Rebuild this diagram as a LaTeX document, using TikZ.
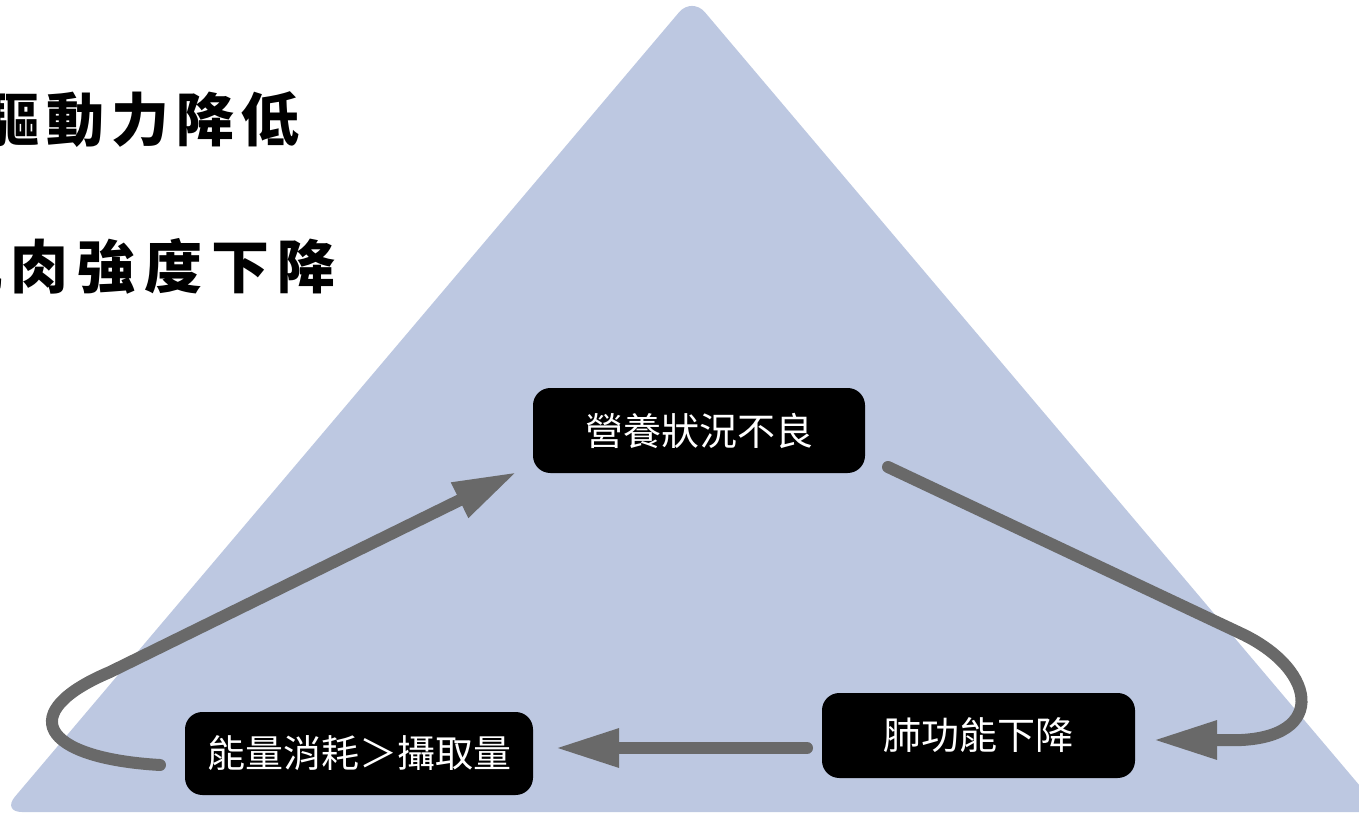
\documentclass[tikz,border=0pt]{standalone}
\usepackage{fontspec}
\usetikzlibrary{arrows.meta}
\newfontfamily\cjk{Noto Sans CJK TC}
\definecolor{tri}{HTML}{BDC8E1}
\definecolor{arr}{HTML}{696969}
\begin{document}
\begin{tikzpicture}[x=0.75pt,y=-0.75pt,
  box/.style={fill=black, rounded corners=13pt, text=white, inner sep=0pt,
              font=\cjk\fontsize{28.5}{30}\selectfont},
  flow/.style={draw=arr, line width=9pt, line cap=round,
              -{Triangle[length=48pt,width=27pt]}},
  head/.style={anchor=base west, inner sep=0pt,
              font=\cjk\bfseries\fontsize{43.5}{46}\selectfont}]
\useasboundingbox (0,0) rectangle (1359,816);
\clip (0,0) rectangle (1359,816);
\fill[white] (0,0) rectangle (1359,816);
\fill[tri, rounded corners=15pt] (692,-3) -- (1382,812) -- (2,812) -- cycle;

\node[head] (h1) at (-19,142) {\addfontfeature{LetterSpace=12}驅動力降低};
\node[head] (h2) at (-56,289) {\addfontfeature{LetterSpace=15}肌肉強度下降};

\node[box, minimum width=249pt, minimum height=63.75pt] (ying) at (699,430.5) {營養狀況不良};
\node[box, minimum width=234.75pt, minimum height=63.75pt] (fei) at (978.5,735.5) {肺功能下降};
\node[box, minimum width=261pt, minimum height=62.25pt] (neng) at (359,753.5) {能量消耗＞攝取量};

\coordinate (a1s) at (888,467);
\coordinate (a1e) at (1153,740);
\coordinate (a2s) at (807,748);
\coordinate (a2e) at (555,748);
\coordinate (a3s) at (160,765);
\coordinate (a3e) at (517,472);

\draw[flow] (a1s) -- (1240,633) .. controls (1320,670) and (1330,745) .. (1222,740) -- (a1e);
\draw[flow] (a2s) -- (a2e);
\draw[flow] (a3s) .. controls (40,758) and (15,712) .. (110,672) -- (a3e);
\end{tikzpicture}
\end{document}
